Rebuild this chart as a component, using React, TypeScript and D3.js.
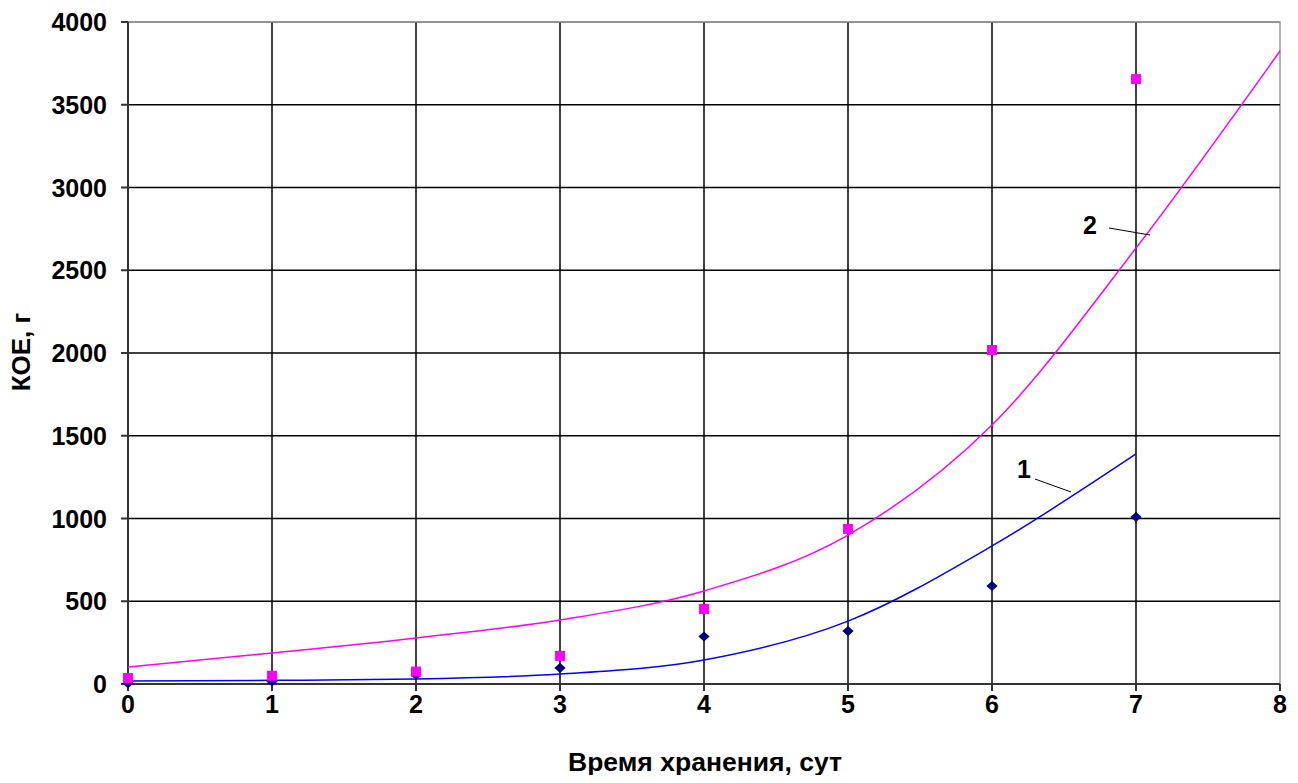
import React, { useEffect, useRef } from 'react';
import * as d3 from 'd3';

const days = [0, 1, 2, 3, 4, 5, 6, 7];
const series2Values = [36, 50, 75, 170, 453, 937, 2018, 3655];
const series1Values = [5, 15, 55, 97, 287, 320, 592, 1009];

// trend curves
const trend2X = [0, 1, 2, 3, 4, 5, 6, 7, 8];
const trend2Y = [103, 187, 278, 387, 562, 900, 1565, 2634, 3825];
const trend1X = [0, 1, 2, 3, 4, 5, 6, 7];
const trend1Y = [18, 22, 30, 60, 145, 380, 834, 1390];

const yTicks = [0, 500, 1000, 1500, 2000, 2500, 3000, 3500, 4000];
const xTicks = [0, 1, 2, 3, 4, 5, 6, 7, 8];

const W = 1298;
const H = 783;

const App: React.FC = () => {
  const svgRef = useRef<SVGSVGElement | null>(null);

  useEffect(() => {
    if (!svgRef.current) return;
    const svg = d3.select(svgRef.current);
    svg.selectAll('*').remove();

    const left = 128;
    const right = 1280;
    const top = 22;
    const bottom = 684;
    const font = 'Liberation Sans, Arial, sans-serif';

    const x = d3.scaleLinear().domain([0, 8]).range([left, right]);
    const y = d3.scaleLinear().domain([0, 4000]).range([bottom, top]);

    svg.append('rect')
      .attr('width', W).attr('height', H).attr('fill', '#fff');

    // plot border (top/right gray)
    svg.append('rect')
      .attr('x', left).attr('y', top)
      .attr('width', right - left).attr('height', bottom - top)
      .attr('fill', 'none').attr('stroke', '#999').attr('stroke-width', 1.5);

    // grid
    svg.selectAll('line.hgrid')
      .data(yTicks.filter(d => d > 0 && d < 4000))
      .enter().append('line')
      .attr('x1', left).attr('x2', right)
      .attr('y1', d => y(d)).attr('y2', d => y(d))
      .attr('stroke', '#000').attr('stroke-width', 1.5);
    svg.selectAll('line.vgrid')
      .data(xTicks.filter(d => d > 0 && d < 8))
      .enter().append('line')
      .attr('x1', d => x(d)).attr('x2', d => x(d))
      .attr('y1', top).attr('y2', bottom)
      .attr('stroke', '#000').attr('stroke-width', 1.5);

    svg.append('line')
      .attr('x1', left).attr('x2', right)
      .attr('y1', y(4000)).attr('y2', y(4000))
      .attr('stroke', '#888').attr('stroke-width', 1.5);

    // axes
    svg.append('line')
      .attr('x1', left).attr('x2', left).attr('y1', top).attr('y2', bottom)
      .attr('stroke', '#333').attr('stroke-width', 2);
    svg.append('line')
      .attr('x1', left - 7).attr('x2', right).attr('y1', bottom).attr('y2', bottom)
      .attr('stroke', '#333').attr('stroke-width', 2);

    // ticks
    svg.selectAll('line.ytick')
      .data(yTicks)
      .enter().append('line')
      .attr('x1', left - 7).attr('x2', left)
      .attr('y1', d => y(d)).attr('y2', d => y(d))
      .attr('stroke', '#333').attr('stroke-width', 2);
    svg.selectAll('line.xtick')
      .data(xTicks)
      .enter().append('line')
      .attr('x1', d => x(d)).attr('x2', d => x(d))
      .attr('y1', bottom).attr('y2', bottom + 7)
      .attr('stroke', '#333').attr('stroke-width', 2);

    svg.selectAll('text.ylab')
      .data(yTicks)
      .enter().append('text')
      .attr('x', 107).attr('y', d => y(d) + 9)
      .attr('text-anchor', 'end')
      .attr('font-family', font).attr('font-weight', 'bold').attr('font-size', 25)
      .attr('fill', '#000')
      .text(d => String(d));
    svg.selectAll('text.xlab')
      .data(xTicks)
      .enter().append('text')
      .attr('x', d => x(d)).attr('y', 713)
      .attr('text-anchor', 'middle')
      .attr('font-family', font).attr('font-weight', 'bold').attr('font-size', 25)
      .attr('fill', '#000')
      .text(d => String(d));

    // axis titles
    svg.append('text')
      .attr('x', 705).attr('y', 771)
      .attr('text-anchor', 'middle')
      .attr('font-family', font).attr('font-weight', 'bold').attr('font-size', 26)
      .attr('textLength', 274).attr('lengthAdjust', 'spacingAndGlyphs')
      .text('Время хранения, сут');
    svg.append('text')
      .attr('transform', `translate(30, 352) rotate(-90)`)
      .attr('text-anchor', 'middle')
      .attr('font-family', font).attr('font-weight', 'bold').attr('font-size', 26)
      .text('КОЕ, г');

    // trend lines
    const line = d3.line<[number, number]>()
      .x(d => x(d[0])).y(d => y(d[1]))
      .curve(d3.curveMonotoneX);
    svg.append('path')
      .attr('d', line(trend2X.map((d, i) => [d, trend2Y[i]] as [number, number])) || '')
      .attr('fill', 'none').attr('stroke', '#ff00ff').attr('stroke-width', 1.5);
    svg.append('path')
      .attr('d', line(trend1X.map((d, i) => [d, trend1Y[i]] as [number, number])) || '')
      .attr('fill', 'none').attr('stroke', '#0000ff').attr('stroke-width', 1.5);

    // markers: diamonds (series 1)
    svg.selectAll('rect.diamond')
      .data(days)
      .enter().append('rect')
      .attr('x', -4).attr('y', -4)
      .attr('width', 8).attr('height', 8)
      .attr('transform', (d, i) => `translate(${x(d)},${y(series1Values[i])}) scale(1,0.9) rotate(45)`)
      .attr('fill', '#000080');

    // markers: squares (series 2)
    svg.selectAll('rect.sq')
      .data(days)
      .enter().append('rect')
      .attr('x', d => x(d) - 5)
      .attr('y', (d, i) => y(series2Values[i]) - 5)
      .attr('width', 10).attr('height', 10)
      .attr('fill', '#ff00ff');

    // series labels with leader lines
    svg.append('text')
      .attr('x', 1090).attr('y', 234)
      .attr('text-anchor', 'middle')
      .attr('font-family', font).attr('font-weight', 'bold').attr('font-size', 25)
      .text('2');
    svg.append('line')
      .attr('x1', 1109).attr('y1', 228).attr('x2', 1150).attr('y2', 235)
      .attr('stroke', '#000').attr('stroke-width', 1);
    svg.append('text')
      .attr('x', 1024).attr('y', 478)
      .attr('text-anchor', 'middle')
      .attr('font-family', font).attr('font-weight', 'bold').attr('font-size', 25)
      .text('1');
    svg.append('line')
      .attr('x1', 1035).attr('y1', 479).attr('x2', 1071).attr('y2', 492)
      .attr('stroke', '#000').attr('stroke-width', 1);
  }, []);

  return (
    <div style={{ width: W, height: H, margin: -8 }}>
      <svg ref={svgRef} width={W} height={H} style={{ display: 'block' }} />
    </div>
  );
};

export default App;
